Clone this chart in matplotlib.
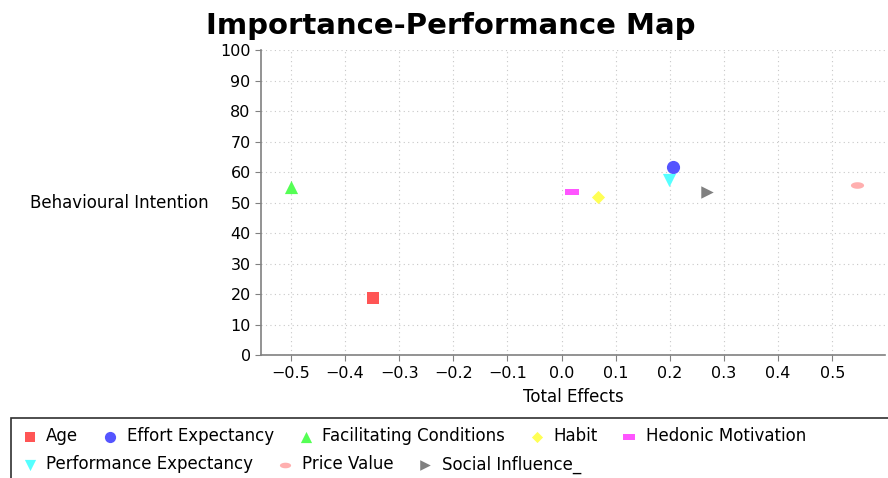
import matplotlib
matplotlib.use("Agg")
import matplotlib.pyplot as plt
from matplotlib.path import Path
from matplotlib.patches import Rectangle
import numpy as np

names = ["Age", "Effort Expectancy", "Facilitating Conditions", "Habit",
         "Hedonic Motivation", "Performance Expectancy", "Price Value", "Social Influence_"]
total_effects = [-0.348, 0.205, -0.500, 0.067, 0.020, 0.198, 0.546, 0.269]
performance = [18.7, 61.6, 55.2, 52.0, 53.4, 57.4, 55.7, 53.6]
colors = ["#FF5555", "#5555FF", "#55FF55", "#FFFF55", "#FF55FF", "#55FFFF", "#FFAFAF", "#808080"]

rect_marker = Path([(-1, -0.5), (1, -0.5), (1, 0.5), (-1, 0.5), (-1, -0.5)],
                   [Path.MOVETO, Path.LINETO, Path.LINETO, Path.LINETO, Path.CLOSEPOLY])
th = np.linspace(0, 2 * np.pi, 40)
ell_marker = Path(np.column_stack([np.cos(th), 0.5 * np.sin(th)]))
markers = ["s", "o", "^", "D", rect_marker, "v", ell_marker, ">"]
sizes = [80, 90, 90, 45, 90, 90, 90, 80]

fig = plt.figure(figsize=(8.88, 4.78), dpi=100)
ax = fig.add_axes([0.294, 0.257, 0.703, 0.638])

handles = []
for n, x, y, c, m, s in zip(names, total_effects, performance, colors, markers, sizes):
    h = ax.scatter([x], [y], s=s, c=c, marker=m, linewidths=0, label=n, zorder=3)
    handles.append(h)

ax.set_xlim(-0.555, 0.598)
ax.set_ylim(0, 100)
ax.set_xticks([-0.5, -0.4, -0.3, -0.2, -0.1, 0.0, 0.1, 0.2, 0.3, 0.4, 0.5])
ax.set_xticklabels(["\u22120.5", "\u22120.4", "\u22120.3", "\u22120.2", "\u22120.1",
                    "0.0", "0.1", "0.2", "0.3", "0.4", "0.5"])
ax.set_yticks(range(0, 101, 10))
ax.tick_params(labelsize=11.5, colors="#808080", labelcolor="black", length=4, direction="out")
ax.grid(True, linestyle=(0, (1, 3)), color="#C8C8C8", linewidth=0.8)
for sp in ["top", "right"]:
    ax.spines[sp].set_visible(False)
for sp in ["left", "bottom"]:
    ax.spines[sp].set_color("#808080")
    ax.spines[sp].set_linewidth(1.2)

ax.set_xlabel("Total Effects", fontsize=12, family="DejaVu Sans", labelpad=5)
fig.text(0.034, 0.575, "Behavioural Intention", fontsize=12, family="DejaVu Sans",
         ha="left", va="center")

fig.text(0.508, 0.945, "Importance-Performance Map", fontsize=21, fontweight="bold",
         ha="center", va="center")

# legend box
fig.add_artist(Rectangle((0.012, -0.01), 1.0, 0.135, transform=fig.transFigure,
                         fill=False, edgecolor="#303030", linewidth=1.2))
leg_kw = dict(loc="center left", frameon=False,
              prop={"family": "DejaVu Sans", "size": 12},
              handletextpad=0.5, columnspacing=1.4, handlelength=1.0,
              markerscale=0.85, borderaxespad=0, borderpad=0)
leg1 = fig.legend(handles=handles[:5], labels=names[:5], ncol=5,
                  bbox_to_anchor=(0.024, 0.087), **leg_kw)
leg2 = fig.legend(handles=handles[5:], labels=names[5:], ncol=3,
                  bbox_to_anchor=(0.024, 0.028), **leg_kw)

fig.savefig("out.png", dpi=100)
